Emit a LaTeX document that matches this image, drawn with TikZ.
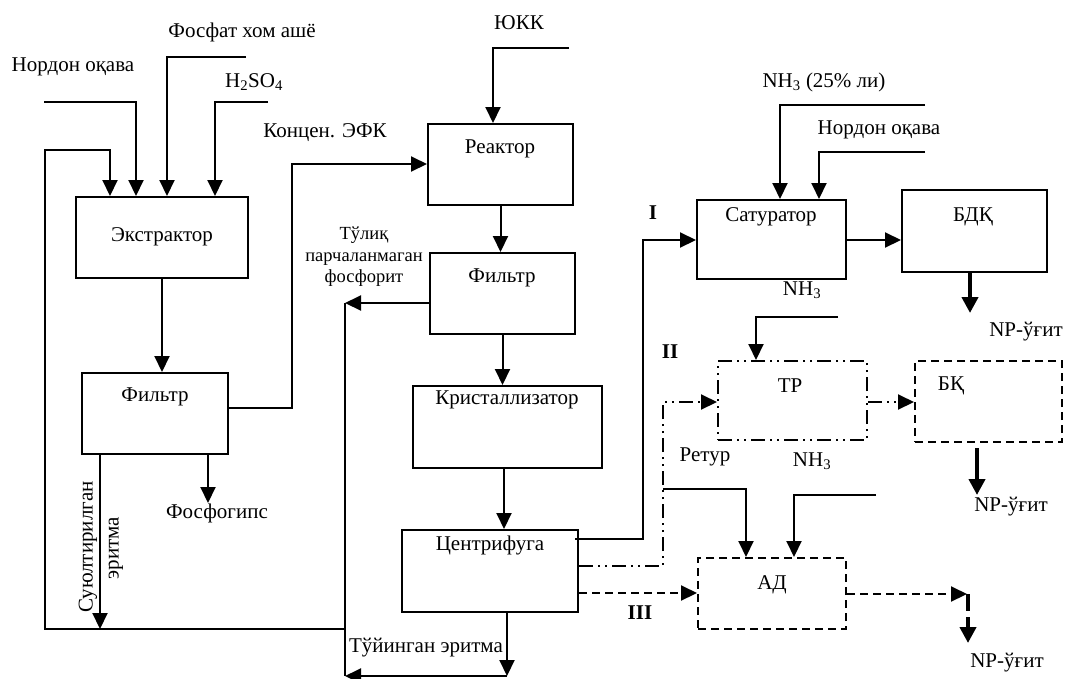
\documentclass[tikz,border=0pt]{standalone}
\usepackage{fontspec}
\setmainfont{Liberation Serif}
\usetikzlibrary{arrows.meta,positioning}
\tikzset{
  blk/.style={draw,line width=2pt,inner sep=0pt},
  ln/.style={line width=2pt},
  arr/.style={line width=2pt,-{Triangle[length=16pt,width=15pt]}},
  tharr/.style={line width=4pt,-{Triangle[length=16pt,width=16pt]}},
  dsh/.style={dash pattern=on 8pt off 5pt},
  ddot/.style={dash pattern=on 14pt off 5pt on 2pt off 5pt on 2pt off 5pt},
  every node/.style={font=\fontsize{21}{24}\selectfont,inner sep=1pt},
}

\begin{document}
\begin{tikzpicture}[x=1pt,y=-1pt]
\useasboundingbox (0,0) rectangle (1065,678);
\node[blk,minimum width=172pt,minimum height=81pt](ext) at (162,237.5) {};
\node[blk,minimum width=146pt,minimum height=81pt](filt1) at (155,413.5) {};
\node[blk,minimum width=145pt,minimum height=81pt](reac) at (500.5,164.5) {};
\node[blk,minimum width=145pt,minimum height=81pt](filt2) at (502.5,293.5) {};
\node[blk,minimum width=189pt,minimum height=82pt](cryst) at (507.5,427) {};
\node[blk,minimum width=176pt,minimum height=82pt](cent) at (490,571) {};
\node[blk,minimum width=149pt,minimum height=79pt](sat) at (771.5,239.5) {};
\node[blk,minimum width=145pt,minimum height=82pt](bdk) at (974.5,231) {};
\node[blk,ddot,minimum width=149pt,minimum height=79pt](tr) at (792.5,400.5) {};
\node[blk,dsh,minimum width=147pt,minimum height=81pt](bk) at (988.5,401.5) {};
\node[blk,dsh,minimum width=148pt,minimum height=71pt](ad) at (772,593.5) {};

\node(extl) at (162,237) {Экстрактор};
\node(filt1l) at (155,397) {Фильтр};
\node(reacl) at (500,149) {Реактор};
\node(filt2l) at (502,278) {Фильтр};
\node(crystl) at (507,400) {Кристаллизатор};
\node(centl) at (490,545) {Центрифуга};
\node(satl) at (771,217) {Сатуратор};
\node(bdkl) at (973,217) {БДҚ};
\node(trl) at (790,386) {ТР};
\node(bkl) at (951,386) {БҚ};
\node(adl) at (772,585) {АД};

\node(nordon) at (73,67) {Нордон оқава};
\node(fosfat) at (242,32) {Фосфат хом ашё};
\node(hso) at (254,82) {H\textsubscript{2}SO\textsubscript{4}};
\node(efk) at (325,133) {Концен. ЭФК};
\node(yukk) at (519,23) {ЮКК};
\node[align=center,font=\fontsize{18.5}{21.5}\selectfont](tulik) at (364,257) {Тўлиқ\\парчаланмаган\\фосфорит};
\node[rotate=90](suyul) at (88,547) {Суюлтирилган};
\node[rotate=90](erit) at (116,548) {эритма};
\node(fosfog) at (217,513) {Фосфогипс};
\node(tuyin) at (426,648) {Тўйинган эритма};
\node(nh25) at (824,82) {NH\textsubscript{3} (25\% ли)};
\node(nordon2) at (879,130) {Нордон оқава};
\node(nhsat) at (802,290) {NH\textsubscript{3}};
\node(np1) at (1026,332) {NP-ўғит};
\node(ret) at (705,457) {Ретур};
\node(nhtr) at (812,461) {NH\textsubscript{3}};
\node(np2) at (1011,507) {NP-ўғит};
\node(np3) at (1007,663) {NP-ўғит};
\node(r1) at (653,213) {\textbf{I}};
\node(r2) at (670,352) {\textbf{II}};
\node(r3) at (640,613) {\textbf{III}};

\coordinate (in1) at (44,102);
\coordinate (in2) at (246,57);
\coordinate (in3) at (268,102);
\coordinate (in4) at (569,48);
\coordinate (in5) at (925,105);
\coordinate (in6) at (925,152);
\coordinate (in7) at (838,317);
\coordinate (in8) at (876,495);
\coordinate (jr) at (345,303);
\coordinate (jb) at (345,676);
\coordinate (jm) at (345,629);
\coordinate (jl) at (45,150);
\coordinate (jt) at (663,489);

\draw[arr] (in1) -| (136,0 |- ext.north);
\draw[arr] (in2) -| (167,0 |- ext.north);
\draw[arr] (in3) -| (215,0 |- ext.north);
\draw[arr] (jm) -| (jl) -| (110,0 |- ext.north);
\draw[arr] (ext.south) -- (ext.south |- filt1.north);
\draw[arr] (100,0 |- filt1.south) -- (100,0 |- jm);
\draw[arr] (208,0 |- filt1.south) -- (208,503);
\draw[arr] (filt1.east |- 0,408) -- (292,408) |- (reac.west |- 0,164);
\draw[arr] (in4) -| (493,0 |- reac.north);
\draw[arr] (reac.south) -- (reac.south |- filt2.north);
\draw[arr] (filt2.west |- jr) -- (jr);
\draw[ln] (jr) -- (jb);
\draw[arr] (filt2.south) -- (filt2.south |- cryst.north);
\draw[arr] (504,0 |- cryst.south) -- (504,0 |- cent.north);
\draw[arr] (507,0 |- cent.south) -- (507,0 |- jb);
\draw[arr] (507,0 |- jb) -- (jb);
\draw[arr] (575,539) -| (643,240) -- (sat.west |- 0,240);
\draw[arr] (sat.east |- 0,240) -- (bdk.west |- 0,240);
\draw[arr] (in5) -| (780,0 |- sat.north);
\draw[arr] (in6) -| (819,0 |- sat.north);
\draw[tharr] (970,0 |- bdk.south) -- (970,313);
\draw[arr] (in7) -| (756,0 |- tr.north);
\draw[arr,ddot] (cent.east |- 0,566) -| (663,402) -- (tr.west |- 0,402);
\draw[arr,ddot] (tr.east |- 0,402) -- (bk.west |- 0,402);
\draw[tharr] (977,448) -- (977,495);
\draw[arr] (jt) -| (746,0 |- ad.north);
\draw[arr] (in8) -| (794,0 |- ad.north);
\draw[arr,dsh] (cent.east |- 0,593) -- (ad.west |- 0,593);
\draw[arr,dsh] (ad.east |- 0,594) -- (967,594);
\draw[tharr,dash pattern=on 17pt off 6pt] (968,594) -- (968,643);
\end{tikzpicture}
\end{document}
